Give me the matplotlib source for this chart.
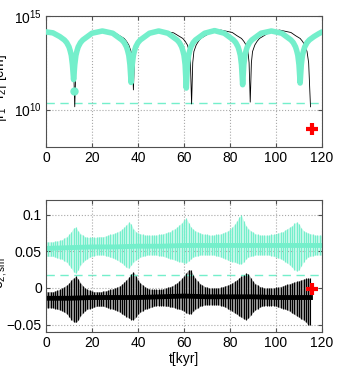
import numpy as np
import matplotlib.pyplot as plt

plt.rcParams['font.family'] = ['Liberation Sans', 'DejaVu Sans']
plt.rcParams['mathtext.fontset'] = 'custom'
plt.rcParams['mathtext.rm'] = 'Liberation Sans'
plt.rcParams['mathtext.it'] = 'Liberation Sans:italic'
plt.rcParams['mathtext.default'] = 'regular'

# ---- top panel: |r1 - r2| (log10 of cm) ----
cyan_t = [0, 3, 6, 8, 9, 10, 10.5, 11, 11.5, 12, 12.5, 13, 13.5, 14, 15, 16, 18, 20, 24.5,
          29, 31, 33, 34, 35, 35.5, 36, 36.5, 37, 37.5, 38, 38.5, 39, 40, 41, 43, 45, 49,
          53, 55, 57, 58, 59, 59.5, 60, 60.5, 61, 61.5, 62, 62.5, 63, 64, 65, 67, 69, 73.3,
          77.5, 79.5, 81.5, 82.5, 83.5, 84, 84.5, 85, 85.5, 86, 86.5, 87, 87.5, 88.5, 89.5, 91.5, 93.5, 98,
          102.5, 104.5, 106.5, 107.5, 108.5, 109, 109.5, 110, 110.5, 111, 111.5, 112, 112.5, 113.5, 114.5,
          116.5, 118.5, 120]
cyan_log = [14.15, 14.1, 13.9, 13.72, 13.58, 13.35, 13.15, 12.9, 12.4, 11.6, 12.4, 12.9, 13.15, 13.35, 13.58, 13.72, 13.9, 14.08, 14.2,
            14.08, 13.9, 13.72, 13.58, 13.35, 13.15, 12.9, 12.4, 11.45, 12.4, 12.9, 13.15, 13.35, 13.58, 13.72, 13.9, 14.08, 14.2,
            14.08, 13.9, 13.72, 13.58, 13.35, 13.15, 12.9, 12.4, 11.15, 12.4, 12.9, 13.15, 13.35, 13.58, 13.72, 13.9, 14.08, 14.22,
            14.08, 13.9, 13.72, 13.58, 13.35, 13.15, 12.9, 12.4, 11.33, 12.4, 12.9, 13.15, 13.35, 13.58, 13.72, 13.9, 14.08, 14.2,
            14.08, 13.9, 13.72, 13.58, 13.35, 13.15, 12.9, 12.4, 11.42, 12.4, 12.9, 13.15, 13.35, 13.58, 13.72,
            13.9, 14.05, 14.15]
cyan_dot_t, cyan_dot_log = [12.1], [11.0]

black_t = [0, 3, 6, 8, 9, 10, 11, 11.5, 12, 12.5, 13, 13.5, 14, 15, 16, 17, 19, 21, 25,
           30, 32, 34, 35, 36, 37, 37.5, 38, 38.5, 39, 40, 41, 42, 44, 46, 50.5,
           55.5, 57.5, 59.5, 60.5, 61.5, 62.3, 62.8, 63.3, 63.8, 64.3, 65.3, 66.3, 67.3, 69.3, 71.3, 76,
           81, 83, 85, 86, 87, 87.8, 88.3, 88.8, 89.3, 89.8, 90.8, 91.8, 92.8, 94.8, 96.8, 101.5,
           106.5, 108.5, 110.5, 111.5, 112.5, 113.5, 114.2, 115]
black_log = [14.15, 14.1, 13.95, 13.8, 13.65, 13.45, 13.1, 12.8, 12.3, 10.15, 12.3, 12.8, 13.1, 13.45, 13.65, 13.8, 13.95, 14.1, 14.2,
             14.1, 13.95, 13.8, 13.65, 13.45, 13.1, 12.8, 11.05, 12.8, 13.1, 13.45, 13.65, 13.8, 13.95, 14.1, 14.2,
             14.1, 13.95, 13.8, 13.65, 13.45, 13.1, 12.5, 10.3, 12.5, 13.1, 13.45, 13.65, 13.8, 13.95, 14.1, 14.25,
             14.12, 13.95, 13.8, 13.65, 13.45, 13.1, 12.5, 10.4, 12.5, 13.1, 13.45, 13.65, 13.8, 13.95, 14.1, 14.25,
             14.12, 13.95, 13.8, 13.65, 13.45, 13.1, 12.5, 10.15]

cross_t = 115.6
cross_top = 9e8
cross_bot = -0.002
limit_top = 2.3e10
limit_bot = 0.018

# ---- bottom panel: oscillation envelopes, one value per kyr ----
cyan_up = [.063, .063, .063, .063, .064, .064, .065, .066, .068, .070,
           .073, .077, .082, .083, .078, .074, .072, .070, .069, .069,
           .069, .069, .069, .070, .070, .070, .071, .072, .073, .074,
           .075, .076, .078, .080, .083, .086, .090, .087, .081, .077,
           .075, .074, .073, .072, .072, .072, .072, .072, .072, .073,
           .073, .074, .075, .076, .077, .079, .081, .083, .086, .089,
           .093, .095, .089, .083, .080, .078, .076, .075, .074, .073,
           .073, .072, .072, .072, .073, .073, .074, .075, .076, .078,
           .080, .083, .087, .092, .097, .099, .091, .085, .081, .078,
           .076, .074, .073, .072, .072, .072, .072, .072, .073, .073,
           .074, .075, .076, .077, .079, .081, .083, .085, .088, .090,
           .087, .082, .078, .076, .075, .074, .073, .072, .072, .072, .072]
cyan_lo = [.043, .043, .043, .043, .042, .041, .040, .039, .037, .035,
           .031, .027, .022, .020, .025, .031, .035, .038, .040, .042,
           .043, .044, .045, .045, .045, .045, .044, .043, .042, .041,
           .040, .038, .036, .034, .031, .028, .027, .031, .035, .038,
           .040, .042, .043, .044, .045, .045, .045, .045, .045, .044,
           .044, .043, .042, .041, .040, .039, .038, .037, .036, .035,
           .034, .034, .037, .040, .042, .043, .044, .045, .045, .045,
           .045, .045, .045, .045, .044, .043, .042, .041, .040, .038,
           .037, .036, .035, .034, .033, .033, .036, .040, .042, .043,
           .044, .045, .045, .045, .045, .045, .045, .045, .044, .043,
           .042, .041, .040, .038, .036, .034, .031, .028, .025, .023,
           .025, .030, .036, .040, .042, .043, .044, .045, .045, .045, .045]
black_up = [-.005, -.005, -.005, -.005, -.004, -.003, -.002, .000, .002, .004,
            .007, .011, .014, .016, .012, .007, .003, .000, -.002, -.003,
            -.004, -.005, -.005, -.005, -.005, -.004, -.004, -.003, -.002, -.001,
            .000, .001, .003, .005, .008, .011, .015, .019, .022, .017,
            .011, .007, .004, .002, .000, -.001, -.002, -.002, -.002, -.002,
            -.002, -.001, .000, .001, .002, .003, .005, .007, .010, .013,
            .017, .021, .025, .024, .018, .013, .009, .006, .004, .002,
            .001, .000, .000, .000, .000, .000, .001, .002, .003, .004,
            .005, .007, .009, .011, .014, .016, .018, .020, .019, .014,
            .009, .006, .004, .002, .001, .000, .000, .000, .000, .000,
            .001, .001, .002, .003, .004, .005, .006, .007, .008, .009,
            .010, .011, .012, .013, .0135, .013]
black_lo = [-.027, -.027, -.027, -.027, -.028, -.029, -.030, -.031, -.033, -.035,
            -.039, -.043, -.046, -.047, -.044, -.038, -.034, -.031, -.029, -.028,
            -.027, -.026, -.025, -.025, -.025, -.025, -.026, -.027, -.028, -.029,
            -.030, -.031, -.033, -.035, -.037, -.039, -.041, -.043, -.043, -.040,
            -.036, -.033, -.031, -.029, -.028, -.027, -.026, -.025, -.024, -.024,
            -.024, -.024, -.025, -.025, -.026, -.026, -.027, -.028, -.029, -.030,
            -.032, -.034, -.035, -.035, -.032, -.029, -.027, -.025, -.024, -.023,
            -.023, -.023, -.023, -.023, -.023, -.023, -.024, -.025, -.026, -.028,
            -.030, -.032, -.034, -.036, -.038, -.040, -.042, -.043, -.041, -.037,
            -.033, -.030, -.028, -.026, -.025, -.024, -.024, -.024, -.024, -.024,
            -.025, -.026, -.027, -.028, -.029, -.030, -.032, -.034, -.036, -.038,
            -.040, -.042, -.044, -.047, -.050, -.050]
# running means (core of the oscillation), every 10 kyr
mid_t = [0, 10, 20, 30, 40, 50, 60, 70, 80, 90, 100, 110, 120]
cyan_mid = [.054, .055, .056, .056, .057, .057, .058, .058, .058, .058, .058, .058, .058]
black_mid_t = [0, 10, 20, 30, 40, 50, 60, 70, 80, 90, 100, 110, 115]
black_mid = [-.014, -.014, -.013, -.013, -.013, -.012, -.011, -.012, -.012, -.012, -.013, -.013, -.013]

xticks = [0, 20, 40, 60, 80, 100, 120]
aqua = '#74EFCB'
frame = '#505050'

fig = plt.figure(figsize=(3.42, 3.69), dpi=100)
ax1 = fig.add_axes([0.1345, 0.6016, 0.807, 0.355])
ax2 = fig.add_axes([0.1345, 0.1003, 0.807, 0.3577])

# top
ax1.plot(black_t, np.power(10.0, black_log), color='k', lw=0.6, zorder=2)
ax1.plot(cyan_t, np.power(10.0, cyan_log), color=aqua, lw=4,
         solid_capstyle='round', solid_joinstyle='round', zorder=3)
ax1.plot(cyan_dot_t, np.power(10.0, cyan_dot_log), 'o', color=aqua, ms=5, zorder=3)
ax1.axhline(limit_top, color=aqua, ls=(0, (6, 4)), lw=1, zorder=1)
ax1.plot([cross_t], [cross_top], '+', color='red', ms=8, mew=3, zorder=4)
ax1.set_yscale('log')
ax1.set_ylim(1e8, 1e15)
ax1.set_yticks([1e10, 1e15])
ax1.minorticks_off()
ax1.set_ylabel(r'$|r_1\!-\!r_2|$ [cm]', fontsize=10)
ax1.yaxis.set_label_coords(-0.135, 0.45)

# bottom
t_c = np.arange(len(cyan_up))
t_b = np.arange(len(black_up))
ax2.fill_between(t_c, cyan_lo, cyan_up, color='#c8f8ea', lw=0, zorder=1)
ax2.vlines(t_c, cyan_lo, cyan_up, color=aqua, lw=0.8, zorder=2)
ax2.plot(mid_t, cyan_mid, color=aqua, lw=3.5, zorder=2)
ax2.fill_between(t_b, black_lo, black_up, color='#9a9a9a', lw=0, zorder=1)
ax2.vlines(t_b, black_lo, black_up, color='k', lw=0.8, zorder=2)
ax2.plot(black_mid_t, black_mid, color='k', lw=3.5, zorder=2)
ax2.axhline(limit_bot, color=aqua, ls=(0, (6, 4)), lw=1, zorder=1)
ax2.plot([cross_t], [cross_bot], '+', color='red', ms=8, mew=3, zorder=4)
ax2.set_ylim(-0.06, 0.12)
ax2.set_yticks([-0.05, 0, 0.05, 0.1])
ax2.set_yticklabels(['\u22120.05', '0', '0.05', '0.1'])
ax2.set_xlabel('t[kyr]', fontsize=10, labelpad=1)
ax2.set_ylabel(r'$e_{2,sm}$', fontsize=10)
ax2.yaxis.set_label_coords(-0.135, 0.45)

for ax in (ax1, ax2):
    ax.set_xlim(0, 120)
    ax.set_xticks(xticks)
    ax.grid(True, color='#a8a8a8', ls=':', lw=0.8)
    ax.tick_params(direction='in', top=True, right=True, length=3,
                   color=frame, labelsize=10, pad=3)
    for s in ax.spines.values():
        s.set_color(frame)
        s.set_linewidth(0.8)

fig.savefig('out.png', dpi=100)
